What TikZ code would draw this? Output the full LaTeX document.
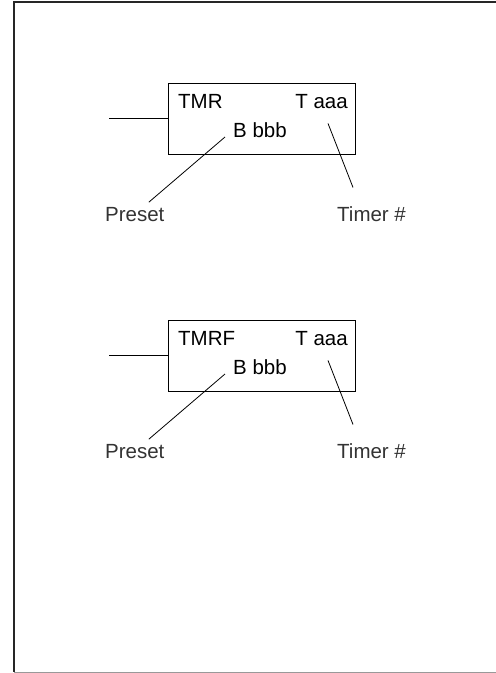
\documentclass[tikz,border=0pt]{standalone}
\usepackage{fontspec}
\setmainfont{Liberation Sans}
\usepackage{tikz}
\usetikzlibrary{positioning,calc}
\tikzset{
  instr/.style   = {rectangle, draw=black, line width=0.8pt, inner sep=0pt,
                    minimum width=187pt, minimum height=71pt},
  field/.style   = {inner sep=0pt, font=\fontsize{20.5}{22}\selectfont, text=black},
  callout/.style = {inner sep=0pt, font=\fontsize{20.5}{22}\selectfont, text=black!80},
  rail/.style    = {line width=0.8pt, black},
  leader/.style  = {line width=0.8pt, black},
}

\begin{document}
\begin{tikzpicture}[x=1pt, y=-1pt]

      \useasboundingbox (0,0) rectangle (496,673);

      % page frame (open on the right)
      \draw[black!85, line width=1.4pt] (496,2) -- (14,2) -- (14,672);
      \draw[black!40, line width=1pt] (14,672) -- (496,672);

      \foreach \dy/\op/\tag in {0/TMR/a, 237/TMRF/b} {
        \begin{scope}[yshift=-\dy pt]
          \node[instr] (box\tag) at (261.5,118.5) {};
          \node[field, anchor=base west] (op\tag)   at (178,108) {\op};
          \node[field, anchor=base east] (tnum\tag) at (348,108) {T aaa};
          \node[field, anchor=base west] (bval\tag) at (233,137) {B bbb};
          \coordinate (in\tag) at (109,118.5);

          \node[callout, anchor=base west] (preset\tag) at (105,221) {Preset};
          \node[callout, anchor=base west] (timer\tag)  at (337,221) {Timer \#};

          \draw[rail] (in\tag) -- (box\tag.west);
          \draw[leader] ([xshift=-8pt]bval\tag.base west)
                        -- ([xshift=14pt,yshift=4.5pt]preset\tag.north);
          \draw[leader] ([xshift=-20pt,yshift=-15pt]tnum\tag.south east)
                        -- ([xshift=16pt,yshift=18.5pt]timer\tag.north west);
        \end{scope}
      }

    \end{tikzpicture}
\end{document}
